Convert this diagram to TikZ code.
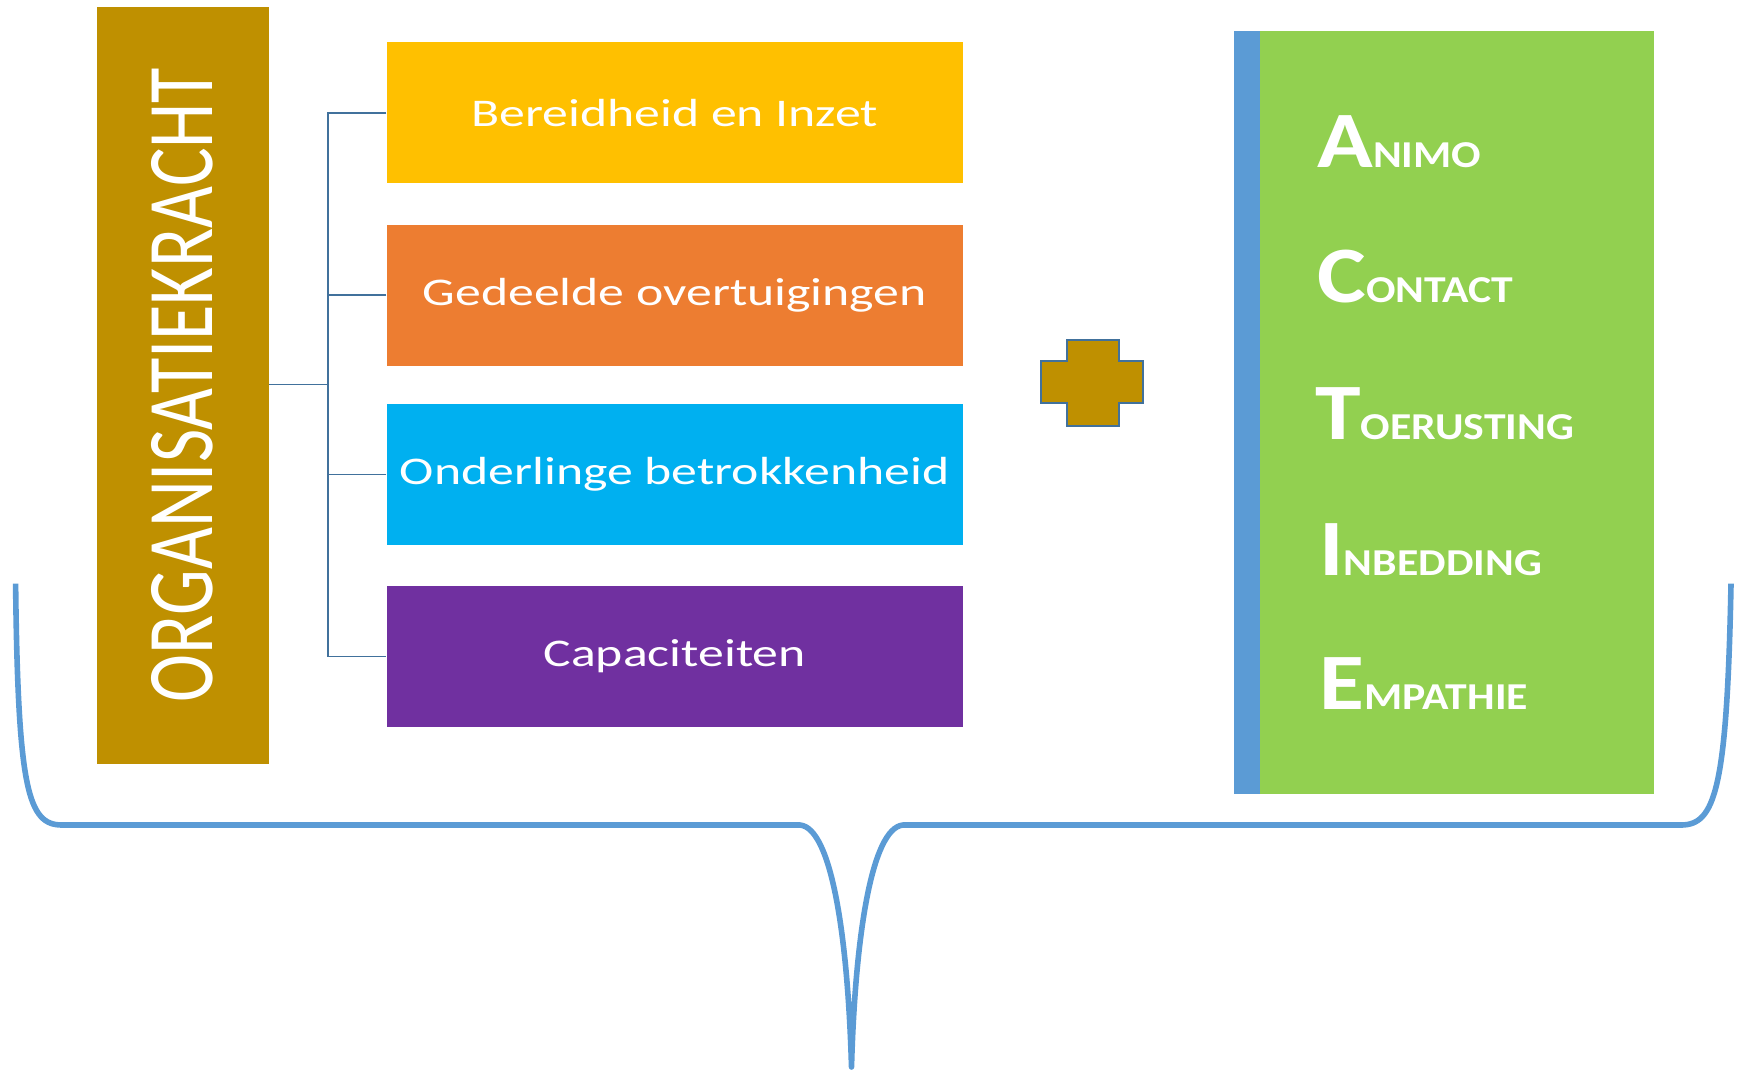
\documentclass[tikz,border=0pt]{standalone}
\usepackage{fontspec}
\usepackage{graphicx}
\setmainfont{Carlito}
\definecolor{gold}{HTML}{BF9000}
\definecolor{yel}{HTML}{FFC000}
\definecolor{ora}{HTML}{ED7D31}
\definecolor{cya}{HTML}{00B0F0}
\definecolor{pur}{HTML}{7030A0}
\definecolor{grn}{HTML}{92D050}
\definecolor{blu}{HTML}{5B9BD5}
\definecolor{conn}{HTML}{41719C}
\newcommand\mywide[2]{\scalebox{#1}[1]{#2}}
\newcommand\acword[2]{\mywide{1.15}{{\fontsize{40}{40}\selectfont #1}{\fontsize{19}{19}\selectfont #2}}}
\tikzset{
  itembox/.style={rectangle, inner sep=0pt, minimum width=287.9pt, minimum height=70.6pt,
    text=white, font=\fontsize{19.6}{19.6}\selectfont},
  linkline/.style={draw=conn, line width=0.8pt},
  bracestyle/.style={draw=blu, line width=2.8pt},
  acletter/.style={anchor=base west, text=white, font=\bfseries, inner sep=0pt}
}
\begin{document}
\begin{tikzpicture}[x=0.5pt,y=-0.5pt]
\useasboundingbox (0,0) rectangle (1743,1071);
% left title bar
\node[fill=gold, inner sep=0pt, minimum width=86.15pt, minimum height=378.5pt] (org) at (182.85,385.2) {};
\node[rotate=90, text=white, inner sep=0pt, font=\fontsize{36.2}{36.2}\selectfont] (orgt) at (182,385) {\scalebox{1}[1.3]{ORGANISATIEKRACHT}};
% four boxes
\node[itembox, fill=yel] (b1) at (674.7,112.8) {\mywide{1.32}{Bereidheid en Inzet}};
\node[itembox, fill=ora] (b2) at (674.7,295.1) {\mywide{1.32}{Gedeelde overtuigingen}};
\node[itembox, fill=cya] (b3) at (674.7,474.65) {\mywide{1.32}{Onderlinge betrokkenheid}};
\node[itembox, fill=pur] (b4) at (674.7,656.4) {\mywide{1.32}{Capaciteiten}};
% connectors
\coordinate (j) at (328,384.6);
\draw[linkline] (org.east |- j) -- (j);
\draw[linkline] (b1.west) -- (b1.west -| j) -- (b4.west -| j) -- (b4.west);
\draw[linkline] (b2.west) -- (b2.west -| j);
\draw[linkline] (b3.west) -- (b3.west -| j);
% plus sign
\draw[fill=gold, draw=conn, line width=0.7pt] (1067,340) -- (1119,340) -- (1119,361) -- (1143,361) -- (1143,403) -- (1119,403) -- (1119,426) -- (1067,426) -- (1067,403) -- (1041,403) -- (1041,361) -- (1067,361) -- cycle;
% ACTIE box
\node[fill=blu, inner sep=0pt, minimum width=12.8pt, minimum height=381.35pt] (strip) at (1246.7,412.35) {};
\node[fill=grn, inner sep=0pt, minimum width=197.25pt, minimum height=381.35pt] (actie) at (1456.75,412.35) {};
\node[acletter] (la) at (1317,167) {\acword{A}{NIMO}};
\node[acletter] (lc) at (1317,302) {\acword{C}{ONTACT}};
\node[acletter] (lt) at (1315,439) {\acword{T}{OERUSTING}};
\node[acletter] (li) at (1319,575) {\acword{I}{NBEDDING}};
\node[acletter] (le) at (1319,709) {\acword{E}{MPATHIE}};
% brace
\draw[bracestyle, line join=round]
  (15.6,583.6) .. controls (18,790) and (28,825) .. (62,825)
  -- (800,825) .. controls (832,828) and (848,940) .. (851.5,1067)
  .. controls (855,940) and (871,828) .. (903,825)
  -- (1681,825) .. controls (1715,825) and (1727,790) .. (1731,583.6);
\end{tikzpicture}
\end{document}
